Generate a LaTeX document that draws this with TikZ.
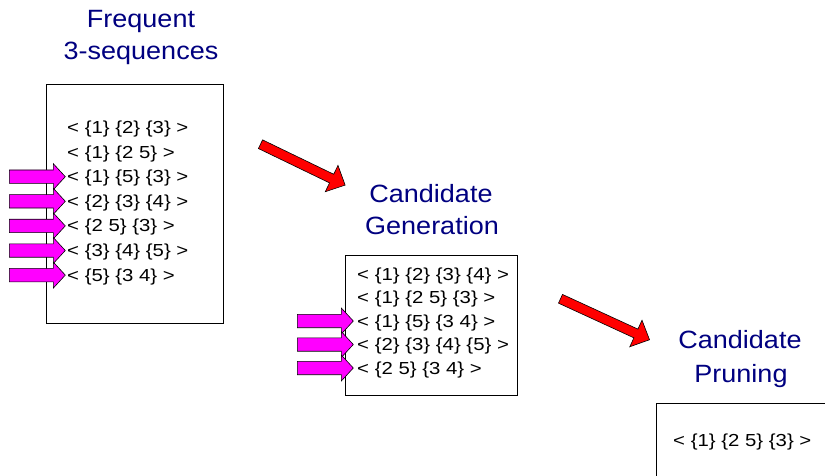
\documentclass[tikz,border=0pt]{standalone}
\usepackage{fontspec}
\setmainfont{Liberation Sans}
\definecolor{navytitle}{RGB}{0,0,128}
\definecolor{magarrow}{RGB}{255,0,255}
\definecolor{redarrow}{RGB}{255,0,0}
\begin{document}
\begin{tikzpicture}[x=1pt,y=-1pt,
  seqtext/.style={anchor=base west, inner sep=0pt, font=\fontsize{17.4}{20}\selectfont, xscale=1.17},
  titletext/.style={anchor=base, inner sep=0pt, text=navytitle, font=\fontsize{25}{30}\selectfont, xscale=1.08},
  listbox/.style={draw=black, line width=0.8pt, anchor=north west, inner sep=0pt},
  arrowoutline/.style={draw=black, line width=0.6pt, line join=miter},
  pics/magarr/.style={code={
    \path[arrowoutline, fill=magarrow] (0,-6.7) -- (44,-6.7) -- (44,-13) -- (56,0) -- (44,13) -- (44,6.7) -- (0,6.7) -- cycle;}},
  pics/redarr/.style={code={
    \path[arrowoutline, fill=redarrow] (0,-4.8) -- (#1-15,-4.8) -- (#1-15,-14.6) -- (#1,0) -- (#1-15,14.6) -- (#1-15,4.8) -- (0,4.8) -- cycle;}}
]
\useasboundingbox (0,0) rectangle (825,476);
\clip (0,0) rectangle (825,476);

% titles
\node[titletext] (t1a) at (141,28) {Frequent};
\node[titletext] (t1b) at (141,60) {3-sequences};
\node[titletext] (t2a) at (431,202) {Candidate};
\node[titletext] (t2b) at (432,234) {Generation};
\node[titletext] (t3a) at (740,348) {Candidate};
\node[titletext] (t3b) at (741,382) {Pruning};

% boxes
\node[listbox, minimum width=177pt, minimum height=239pt] (box1) at (46,84) {};
\node[listbox, minimum width=171.5pt, minimum height=140pt] (box2) at (345,255) {};
\node[listbox, minimum width=200pt, minimum height=100pt] (box3) at (656,403) {};

% box 1 text
\node[seqtext] (a1) at (67,133.5) {< \{1\} \{2\} \{3\} >};
\node[seqtext] (a2) at (67,158.1) {< \{1\} \{2 5\} >};
\node[seqtext] (a3) at (67,182.7) {< \{1\} \{5\} \{3\} >};
\node[seqtext] (a4) at (67,207.3) {< \{2\} \{3\} \{4\} >};
\node[seqtext] (a5) at (67,231.9) {< \{2 5\} \{3\} >};
\node[seqtext] (a6) at (67,256.5) {< \{3\} \{4\} \{5\} >};
\node[seqtext] (a7) at (67,281.1) {< \{5\} \{3 4\} >};

% box 2 text
\node[seqtext] (b1) at (357,280) {< \{1\} \{2\} \{3\} \{4\} >};
\node[seqtext] (b2) at (357,303.5) {< \{1\} \{2 5\} \{3\} >};
\node[seqtext] (b3) at (357,327) {< \{1\} \{5\} \{3 4\} >};
\node[seqtext] (b4) at (357,350.5) {< \{2\} \{3\} \{4\} \{5\} >};
\node[seqtext] (b5) at (357,374) {< \{2 5\} \{3 4\} >};

% box 3 text
\node[seqtext] (c1) at (673,446) {< \{1\} \{2 5\} \{3\} >};

% magenta pointers
\pic (m1) at (9.3,176.7) {magarr};
\pic (m2) at (9.3,201.3) {magarr};
\pic (m3) at (9.3,225.9) {magarr};
\pic (m4) at (9.3,250.5) {magarr};
\pic (m5) at (9.3,275.1) {magarr};
\pic (n1) at (297.3,321) {magarr};
\pic (n2) at (297.3,344.5) {magarr};
\pic (n3) at (297.3,368) {magarr};

% red process arrows
\pic[rotate=-25.8] (r1) at (260.5,144.2) {redarr=94};
\pic[rotate=-24.7] (r2) at (560.5,298.8) {redarr=98};
\end{tikzpicture}
\end{document}
